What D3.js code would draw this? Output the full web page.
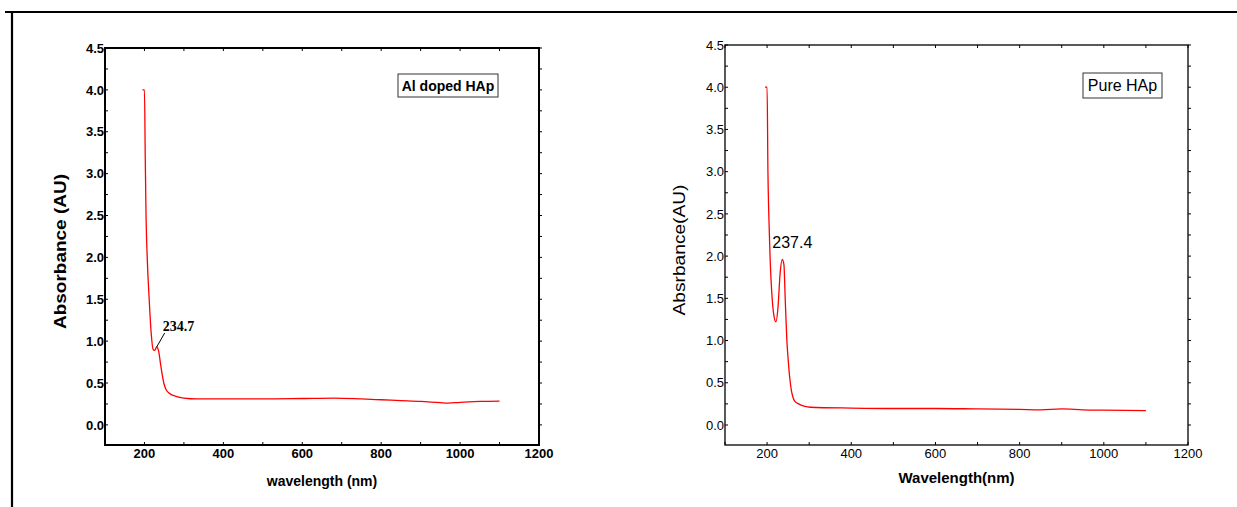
<!DOCTYPE html>
<html>
<head>
<meta charset="utf-8">
<script src="https://cdn.jsdelivr.net/npm/d3@7"></script>
<style>
  body { margin: 0; background: #fff; }
  svg { display: block; }
  text { font-family: "Liberation Sans", Arial, sans-serif; fill: #000; }
</style>
</head>
<body>
<svg id="viz" width="1237" height="507"></svg>
<script>
// Al doped HAp spectrum
const alWavelength = [195, 200, 202, 204, 207, 212, 217, 222, 226, 231, 236, 241, 245, 249, 255, 262, 280, 300, 333, 400, 500, 600, 680, 750, 800, 850, 900, 950, 970, 1000, 1050, 1100];
const alAbsorbance = [4.0, 4.0, 3.2, 2.5, 2.0, 1.5, 1.1, 0.90, 0.89, 0.93, 0.88, 0.72, 0.60, 0.50, 0.42, 0.38, 0.34, 0.32, 0.31, 0.31, 0.31, 0.315, 0.32, 0.31, 0.30, 0.29, 0.28, 0.265, 0.26, 0.27, 0.28, 0.285];

// Pure HAp spectrum
const pureWavelength = [195, 200, 202, 204, 207, 212, 216, 221, 226, 231, 236, 240, 243, 247, 250, 254, 258, 262, 266, 275, 290, 302, 400, 500, 600, 700, 800, 850, 900, 950, 1000, 1100];
const pureAbsorbance = [4.0, 4.0, 3.0, 2.5, 2.0, 1.5, 1.3, 1.22, 1.4, 1.8, 1.96, 1.9, 1.5, 1.0, 0.78, 0.55, 0.40, 0.32, 0.28, 0.25, 0.22, 0.21, 0.20, 0.195, 0.195, 0.19, 0.185, 0.18, 0.19, 0.18, 0.175, 0.17];

const xTicks = [200, 400, 600, 800, 1000, 1200];
const xMinorTicks = [100, 300, 500, 700, 900, 1100];
const yTicks = [0, 0.5, 1.0, 1.5, 2.0, 2.5, 3.0, 3.5, 4.0, 4.5];
const panelLabels = ["Al doped HAp", "Pure HAp"];
const peakLabels = ["234.7", "237.4"];
const peakPositions = [231, 237];
const yTitles = ["Absorbance (AU)", "Absrbance(AU)"];
const xTitles = ["wavelength (nm)", "Wavelength(nm)"];

let viz = d3.select("#viz")

// outer frame (top and left edges only)
viz.append("line").attr("x1", 5).attr("x2", 1237).attr("y1", 12).attr("y2", 12)
    .style("stroke", "#000").style("stroke-width", 2.2)
viz.append("line").attr("x1", 12).attr("x2", 12).attr("y1", 12).attr("y2", 507)
    .style("stroke", "#000").style("stroke-width", 2.2)

let panels = [
    {left: 105, right: 539, top: 48, bottom: 445, yMin: -0.24, bold: true, axisWidth: 2,
     wl: alWavelength, ab: alAbsorbance, tickSize: 13, yTitleX: 66, yTitleLen: 155, yTitleSize: 16,
     xTitleSize: 14, xTitleY: 486, box: {x: 398, y: 74, w: 100, h: 23}, boxTextSize: 14},
    {left: 725, right: 1188, top: 45, bottom: 445, yMin: -0.237, bold: false, axisWidth: 1.3,
     wl: pureWavelength, ab: pureAbsorbance, tickSize: 13, yTitleX: 685, yTitleLen: 131, yTitleSize: 16,
     xTitleSize: 15, xTitleY: 483, box: {x: 1083, y: 73, w: 79, h: 25}, boxTextSize: 16}
]

panels.forEach(function (p, i) {
    let x = d3.scaleLinear().domain([100, 1200]).range([p.left, p.right])
    let y = d3.scaleLinear().domain([p.yMin, 4.5]).range([p.bottom, p.top])
    let weight = p.bold ? "bold" : "normal"
    let g = viz.append("g").attr("class", "panel")

    // minor ticks on all four sides (inside)
    let yMinor = yTicks.slice(0, -1).map(v => v + 0.25)
    g.selectAll(null).data(xTicks.concat(xMinorTicks)).enter().append("line")
        .attr("x1", d => x(d)).attr("x2", d => x(d))
        .attr("y1", p.bottom).attr("y2", p.bottom - 3)
        .style("stroke", "#000").style("stroke-width", 1)
    g.selectAll(null).data(xTicks.concat(xMinorTicks)).enter().append("line")
        .attr("x1", d => x(d)).attr("x2", d => x(d))
        .attr("y1", p.top).attr("y2", p.top + 3)
        .style("stroke", "#000").style("stroke-width", 1)
    g.selectAll(null).data(yTicks.concat(yMinor)).enter().append("line")
        .attr("x1", p.left).attr("x2", p.left + 3)
        .attr("y1", d => y(d)).attr("y2", d => y(d))
        .style("stroke", "#000").style("stroke-width", 1)
    g.selectAll(null).data(yTicks.concat(yMinor)).enter().append("line")
        .attr("x1", p.right).attr("x2", p.right + 3)
        .attr("y1", d => y(d)).attr("y2", d => y(d))
        .style("stroke", "#000").style("stroke-width", 1)

    // plot frame
    g.append("rect")
        .attr("x", p.left).attr("y", p.top)
        .attr("width", p.right - p.left).attr("height", p.bottom - p.top)
        .style("fill", "none").style("stroke", "#000").style("stroke-width", p.axisWidth)

    // tick labels
    g.selectAll(null).data(xTicks).enter().append("text")
        .attr("x", d => x(d)).attr("y", p.bottom + 13)
        .attr("text-anchor", "middle")
        .style("font-size", p.tickSize + "px").style("font-weight", weight)
        .text(d => d)
    g.selectAll(null).data(yTicks).enter().append("text")
        .attr("x", p.left - 1).attr("y", d => y(d) + p.tickSize * 0.36)
        .attr("text-anchor", "end")
        .style("font-size", p.tickSize + "px").style("font-weight", weight)
        .text(d => d3.format(".1f")(d))

    // axis titles
    g.append("text")
        .attr("transform", `translate(${p.yTitleX},${(p.top + p.bottom) / 2 + 5}) rotate(-90)`)
        .attr("text-anchor", "middle")
        .attr("textLength", p.yTitleLen).attr("lengthAdjust", "spacingAndGlyphs")
        .style("font-size", p.yTitleSize + "px").style("font-weight", weight)
        .text(yTitles[i])
    g.append("text")
        .attr("x", (p.left + p.right) / 2).attr("y", p.xTitleY)
        .attr("text-anchor", "middle")
        .style("font-size", p.xTitleSize + "px").style("font-weight", "bold")
        .text(xTitles[i])

    // spectrum
    let line = d3.line()
        .x(d => x(d[0])).y(d => y(d[1]))
        .curve(d3.curveMonotoneX)
    g.append("path")
        .datum(d3.zip(p.wl, p.ab))
        .attr("d", line)
        .style("fill", "none").style("stroke", "#ff0000").style("stroke-width", 1.3)

    // legend box
    g.append("rect")
        .attr("x", p.box.x).attr("y", p.box.y).attr("width", p.box.w).attr("height", p.box.h)
        .style("fill", "#fff").style("stroke", "#333").style("stroke-width", 1)
    g.append("text")
        .attr("x", p.box.x + p.box.w / 2).attr("y", p.box.y + p.box.h / 2 + p.boxTextSize * 0.36)
        .attr("text-anchor", "middle")
        .style("font-size", p.boxTextSize + "px").style("font-weight", weight)
        .text(panelLabels[i])

    // peak annotation
    let peakIdx = d3.minIndex(p.wl, w => Math.abs(w - peakPositions[i]))
    let px = x(p.wl[peakIdx]), py = y(p.ab[peakIdx])
    if (i == 0) {
        g.append("line")
            .attr("x1", px).attr("y1", py)
            .attr("x2", px + 8).attr("y2", py - 14)
            .style("stroke", "#000").style("stroke-width", 1)
        g.append("text")
            .attr("x", px + 6).attr("y", py - 16)
            .attr("font-family", "'Liberation Serif', 'Times New Roman', serif")
            .style("font-family", "'Liberation Serif', 'Times New Roman', serif")
            .style("font-size", "14px").style("font-weight", "bold")
            .text(peakLabels[i])
    } else {
        g.append("text")
            .attr("x", px - 10).attr("y", py - 11)
            .style("font-size", "16px")
            .text(peakLabels[i])
    }
})
</script>
</body>
</html>
